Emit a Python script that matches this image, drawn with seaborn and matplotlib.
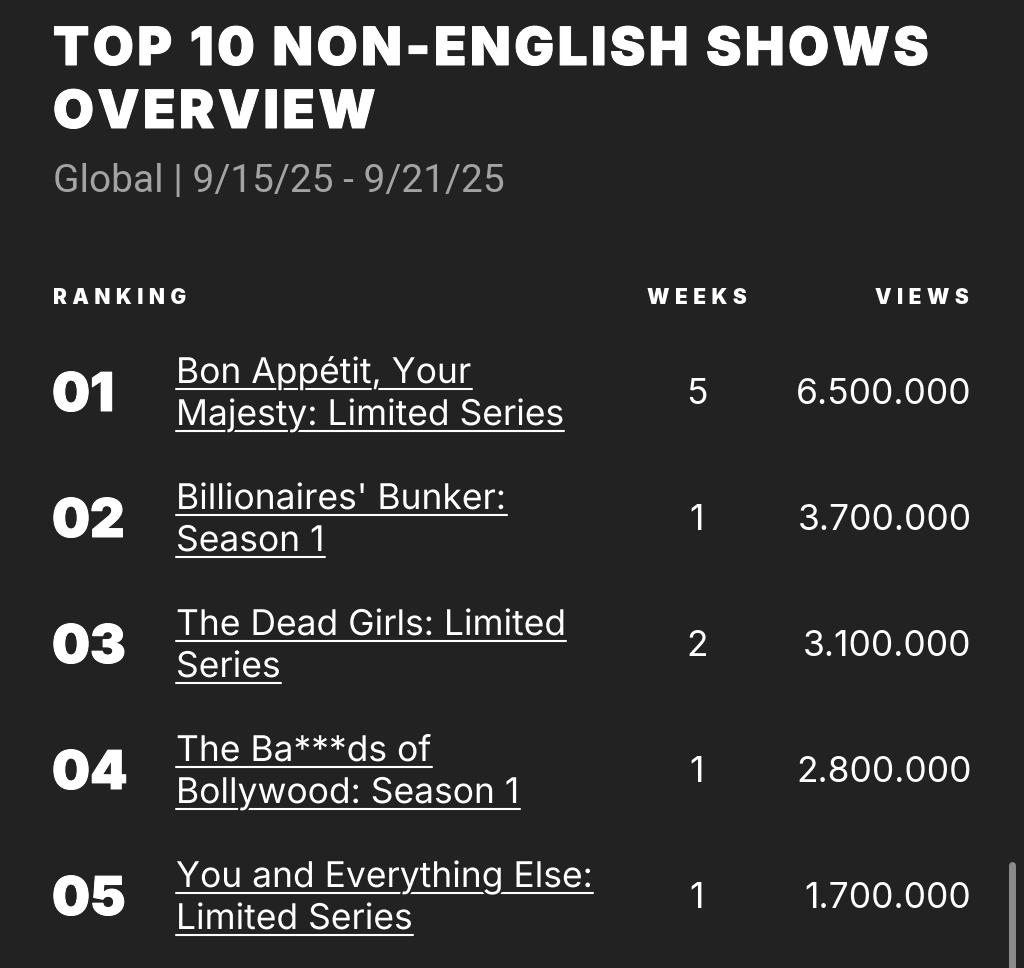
import matplotlib
matplotlib.use('Agg')
import matplotlib.pyplot as plt
import matplotlib.patheffects as pe
import seaborn as sns

sns.set_theme(style='white')
plt.rcParams['font.family'] = ['Inter', 'DejaVu Sans']

title_lines = ['TOP 10 NON-ENGLISH SHOWS', 'OVERVIEW']
subtitle = 'Global | 9/15/25 - 9/21/25'
headers = ['RANKING', 'WEEKS', 'VIEWS']
ranks = ['01', '02', '03', '04', '05']
shows = [
    ['Bon Appétit, Your', 'Majesty: Limited Series'],
    ["Billionaires' Bunker:", 'Season 1'],
    ['The Dead Girls: Limited', 'Series'],
    ['The Ba***ds of', 'Bollywood: Season 1'],
    ['You and Everything Else:', 'Limited Series'],
]
weeks = ['5', '1', '2', '1', '1']
views = ['6.500.000', '3.700.000', '3.100.000', '2.800.000', '1.700.000']

bg = '#222222'
W, H = 1024, 968
HAIR = '\u200a'


# netflix headings are letter spaced, matplotlib has no tracking option
def spaced(s, n=1):
    return (HAIR * n).join(s)


fig = plt.figure(figsize=(W / 100, H / 100), dpi=100, facecolor=bg)
ax = fig.add_axes([0, 0, 1, 1])
ax.set_xlim(0, W)
ax.set_ylim(H, 0)
ax.axis('off')

# thin white stroke makes the bold face look as fat as the original
fat = [pe.withStroke(linewidth=0.7, foreground='white')]
heavy = dict(family=['Inter', 'DejaVu Sans'], weight='black', color='white', va='baseline')
plain = dict(family=['Inter', 'DejaVu Sans'], weight='normal', color='white', va='baseline')

ax.text(53, 65, spaced(title_lines[0]), fontsize=38, path_effects=fat, **heavy)
ax.text(53, 128, spaced(title_lines[1]), fontsize=38, path_effects=fat, **heavy)
ax.text(53, 192, subtitle, fontsize=28, family=['Roboto', 'DejaVu Sans'], color='#a3a3a3', va='baseline')

ax.text(53, 304, spaced(headers[0], 4), fontsize=15, **heavy)
ax.text(697, 304, spaced(headers[1], 4), fontsize=15, ha='center', **heavy)
ax.text(969, 304, spaced(headers[2], 4), fontsize=15, ha='right', **heavy)

renderer = fig.canvas.get_renderer()
knockout = [pe.withStroke(linewidth=3, foreground=bg)]
for i in range(5):
    y = i * 126
    ax.text(52, 411 + y, ranks[i], fontsize=38.5, path_effects=fat, **heavy)
    for j, line in enumerate(shows[i]):
        base = 383 + y + j * 42
        t = ax.text(176, base, line, fontsize=25.5, zorder=3, path_effects=knockout, **plain)
        # underline spans the text width, the stroke above cuts it at descenders
        w = t.get_window_extent(renderer).width
        ax.plot([176, 176 + w], [base + 6, base + 6], color='white', lw=1.5, zorder=2)
    ax.text(697, 404 + y, weeks[i], fontsize=25.5, ha='center', **plain)
    ax.text(971.5, 404 + y, views[i], fontsize=25.5, ha='right', **plain)

# scrollbar
ax.plot([1012, 1012], [865, 975], color='#8c8c8c', lw=5, solid_capstyle='round')

fig.savefig('out.png', dpi=100, facecolor=bg)
